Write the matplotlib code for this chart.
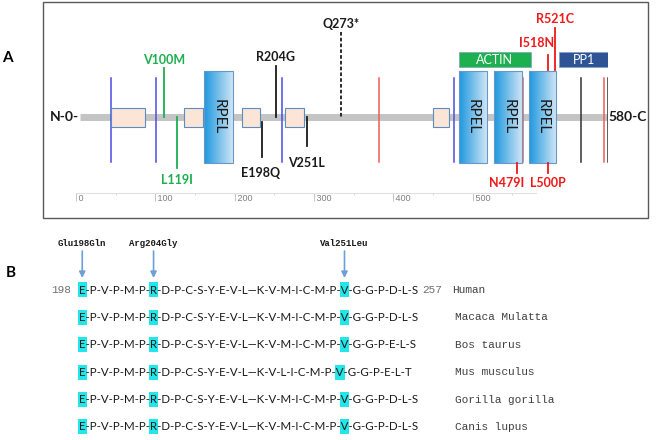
import numpy as np
import matplotlib
matplotlib.use("Agg")
import matplotlib.pyplot as plt
from matplotlib.patches import Rectangle
from matplotlib.colors import LinearSegmentedColormap
from matplotlib.font_manager import FontProperties

plt.rcParams['font.family'] = ['Lato', 'DejaVu Sans']

# ---- Panel A data (positions in residues, as drawn) ----
PROTEIN_LEN = 580
small_boxes = [(34, 71), (114, 135), (178, 198), (225, 246), (388, 405)]
rpel_boxes = [(136, 168), (416, 447), (455, 486), (493, 523)]
domains = ['ACTIN', 'PP1']
domain_spans = [(416, 495), (526, 581)]
domain_colors = ['#1DB04E', '#2F5496']
marker_pos = [34, 83.5, 222, 411, 328, 487, 576, 550, 580]
marker_kind = ['blue', 'blue', 'blue', 'blue', 'red', 'red', 'red', 'black', 'black']

mut_names = ['V100M', 'L119I', 'E198Q', 'R204G', 'V251L', 'Q273*',
             'N479I', 'L500P', 'I518N', 'R521C']
mut_pos = [92, 107, 200, 215, 249, 287, 480, 514, 514, 522]
mut_kind = ['green', 'green', 'black', 'black', 'black', 'black',
            'red', 'red', 'red', 'red']
# line top, line bottom, label y (pixel rows), label shift (residues)
mut_line = [(68, 117), (117, 168), (122, 157), (66, 117), (117, 146),
            (32, 117), (163, 173), (163, 173), (55, 70), (28, 70)]
mut_label_y = [60, 180, 173, 57, 163, 24, 183, 183, 43, 19]
mut_label_dx = [0, 0, -2, 0, 0, 0, -11, 0, -12, 0]

ruler_ticks = [0, 100, 200, 300, 400, 500]

# ---- Panel B data ----
species = ['Human', 'Macaca Mulatta', 'Bos taurus', 'Mus musculus',
           'Gorilla gorilla', 'Canis lupus']
sequences = [
    'E-P-V-P-M-P-R-D-P-C-S-Y-E-V-L\u2014K-V-M-I-C-M-P-V-G-G-P-D-L-S',
    'E-P-V-P-M-P-R-D-P-C-S-Y-E-V-L\u2014K-V-M-I-C-M-P-V-G-G-P-D-L-S',
    'E-P-V-P-M-P-R-D-P-C-S-Y-E-V-L\u2014K-V-M-I-C-M-P-V-G-G-P-E-L-S',
    'E-P-V-P-M-P-R-D-P-C-S-Y-E-V-L\u2014K-V-L-I-C-M-P-V-G-G-P-E-L-T',
    'E-P-V-P-M-P-R-D-P-C-S-Y-E-V-L\u2014K-V-M-I-C-M-P-V-G-G-P-D-L-S',
    'E-P-V-P-M-P-R-D-P-C-S-Y-E-V-L\u2014K-V-M-I-C-M-P-V-G-G-P-D-L-S',
]
highlight_idx = [0, 12, 44]
variant_labels = ['Glu198Gln', 'Arg204Gly', 'Val251Leu']
seq_start, seq_end = 198, 257

COLORS = {'blue': '#4B4BE6', 'red': '#F25A5A', 'black': '#333333',
          'green': '#1DAF4F'}
MUT_COLORS = {'green': '#1DAF4F', 'black': '#1A1A1A', 'red': '#F01818'}

fig = plt.figure(figsize=(6.6, 4.4), dpi=100)

# background axes in pixel units
bg = fig.add_axes([0, 0, 1, 1])
bg.set_xlim(0, 660)
bg.set_ylim(440, 0)
bg.axis('off')

# diagram axes: residues horizontally, pixel rows vertically
ax = fig.add_axes([80 / 660, 0, 528 / 660, 1])
ax.axis('off')

bg.add_patch(Rectangle((43, 2), 605, 216, fill=False, ec='#595959', lw=1))
bg.text(7, 58, 'A', fontsize=11, fontweight='bold', ha='center', va='center')
bg.text(11, 273, 'B', fontsize=11, fontweight='bold', ha='center', va='center')

# backbone
BB_Y = 117
ax.plot([0, PROTEIN_LEN], [BB_Y, BB_Y], color='#C4C4C4', lw=5,
        solid_capstyle='butt', zorder=1)

for p, k in zip(marker_pos, marker_kind):
    ax.plot([p, p], [78, 162], color=COLORS[k], lw=1.1, zorder=2)

for x0, x1 in small_boxes:
    ax.add_patch(Rectangle((x0, 108), x1 - x0, 19, fc='#FBE5D6',
                           ec='#5B8CC4', lw=0.8, zorder=3))

rpel_cmap = LinearSegmentedColormap.from_list('rpel', ['#1F98DF', '#D3E7F6'])
grad = np.linspace(0, 1, 64).reshape(1, -1)
for x0, x1 in rpel_boxes:
    ax.imshow(grad, extent=(x0, x1, 163, 71), cmap=rpel_cmap,
              aspect='auto', zorder=4)
    ax.add_patch(Rectangle((x0, 71), x1 - x0, 92, fill=False,
                           ec='#6A98C6', lw=0.8, zorder=5))
    ax.text((x0 + x1) / 2, BB_Y, 'RPEL', rotation=270, ha='center',
            va='center', fontsize=11, color='#1A1A1A', zorder=6)

for name, (x0, x1), c in zip(domains, domain_spans, domain_colors):
    ax.add_patch(Rectangle((x0, 52), x1 - x0, 15, fc=c, ec='#7FA0C0',
                           lw=0.5, zorder=3))
    ax.text((x0 + x1) / 2, 59.5, name, ha='center', va='center',
            fontsize=9, color='white', zorder=4)

for name, p, k, (y0, y1), ly, dx in zip(mut_names, mut_pos, mut_kind,
                                         mut_line, mut_label_y, mut_label_dx):
    if name.endswith('*'):
        ax.plot([p, p], [y0, y1], color=MUT_COLORS[k], lw=1.3,
                ls=(0, (2, 1.2)), zorder=7)
    else:
        ax.plot([p, p], [y0, y1], color=MUT_COLORS[k], lw=1.3, zorder=7)
    ax.text(p + dx, ly, name, ha='center', va='center', fontsize=9,
            fontweight='bold', color=MUT_COLORS[k], zorder=8)

ax.text(-1.5, BB_Y, 'N-0-', ha='right', va='center', fontsize=10,
        fontweight='bold', color='#1A1A1A')
ax.text(PROTEIN_LEN + 1, BB_Y, '580-C', ha='left', va='center', fontsize=10,
        fontweight='bold', color='#1A1A1A')
ax.set_xlim(0, PROTEIN_LEN)
ax.set_ylim(440, 0)

# residue ruler
ruler = fig.add_axes([76 / 660, 1 - 193 / 440, 460 / 660, 1 / 440])
ruler.set_xlim(0, PROTEIN_LEN)
ruler.patch.set_visible(False)
for side in ['top', 'left', 'right']:
    ruler.spines[side].set_visible(False)
ruler.spines['bottom'].set_color('#E0E0E0')
ruler.spines['bottom'].set_linewidth(0.8)
ruler.set_yticks([])
ruler.set_xticks(ruler_ticks)
ruler.set_xticklabels([' ' + str(v) for v in ruler_ticks], ha='left',
                      family=['Liberation Sans Narrow', 'Liberation Sans'])
ruler.set_xticks(np.arange(50, 600, 100), minor=True)
ruler.tick_params(axis='x', which='major', direction='out', length=5.5,
                  width=0.6, color='#BBBBBB', labelsize=6.5,
                  labelcolor='#7F7F7F', pad=-5)
ruler.tick_params(axis='x', which='minor', direction='out', length=1.5,
                  width=0.6, color='#CCCCCC')

# ---- Panel B: alignment ----
renderer = fig.canvas.get_renderer()


def text_width(s, prop):
    w, _, _ = renderer.get_text_width_height_descent(s, prop, ismath=False)
    return w


SEQ_X = 79
SEQ_W = 338
ref_prop = FontProperties(family='Lato', size=10)
seq_size = 10 * SEQ_W / text_width(sequences[0], ref_prop)
seq_prop = FontProperties(family='Lato', size=seq_size)
mono = ['Liberation Mono', 'DejaVu Sans Mono']

row_y = 290 + 27.4 * np.arange(len(sequences))
hl_centers = []
for r, (sp, seq) in enumerate(zip(species, sequences)):
    y = row_y[r]
    for i in highlight_idx:
        start = SEQ_X + text_width(seq[:i + 1], seq_prop) - text_width(seq[i], seq_prop)
        end = SEQ_X + text_width(seq[:i + 1], seq_prop)
        bg.add_patch(Rectangle((start - 1, y - 7.5), end - start + 2, 15,
                               fc='#22E6EA', ec='none', zorder=1))
        if r == 0:
            hl_centers.append((start + end) / 2)
    bg.text(SEQ_X, y, seq, fontproperties=seq_prop, ha='left', va='center',
            color='#1A1A1A', zorder=2)
    bg.text(452 if r == 0 else 455, y, sp, family=mono, fontsize=8,
            ha='left', va='center', color='#404040')

bg.text(SEQ_X - 8, row_y[0], str(seq_start), family=mono, fontsize=8,
        ha='right', va='center', color='#707070')
bg.text(SEQ_X + SEQ_W + 5, row_y[0], str(seq_end), family=mono, fontsize=8,
        ha='left', va='center', color='#707070')

for lab, x in zip(variant_labels, hl_centers):
    bg.annotate('', xy=(x, 278), xytext=(x, 251),
                arrowprops=dict(arrowstyle='-|>', color='#6F9FD8', lw=1.2,
                                mutation_scale=9, shrinkA=0, shrinkB=0))
    bg.text(x, 243, lab, family=mono, fontsize=6.5, fontweight='bold',
            ha='center', va='center', color='#1A1A1A')

fig.savefig('out.png', dpi=100)
